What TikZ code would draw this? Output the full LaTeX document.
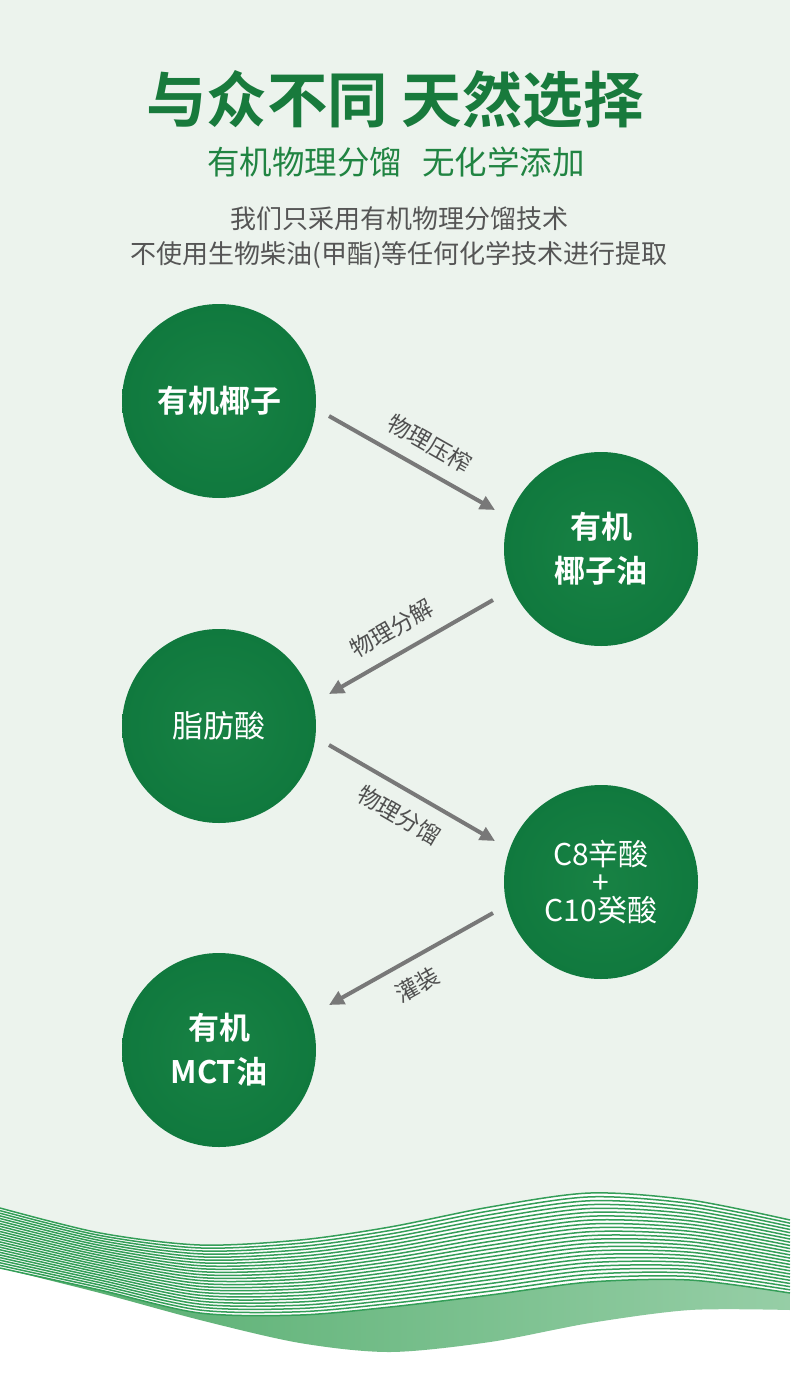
\documentclass[tikz,border=0pt]{standalone}
\usepackage{fontspec}
\setmainfont{Noto Sans CJK SC}[BoldFont={Noto Sans CJK SC Bold}]
\usetikzlibrary{arrows.meta,calc}

\definecolor{pagebg}{RGB}{236,243,237}
\definecolor{titlegreen}{RGB}{24,122,60}
\definecolor{subgreen}{RGB}{32,132,66}
\definecolor{textgray}{RGB}{85,85,85}
\definecolor{stagegreen}{RGB}{16,121,62}
\definecolor{stagelight}{RGB}{24,130,68}
\definecolor{arrowgray}{RGB}{120,120,120}
\definecolor{labelgray}{RGB}{80,80,80}
\definecolor{wavegreen}{RGB}{52,158,88}
\definecolor{bandleft}{RGB}{82,172,108}
\definecolor{bandmid}{RGB}{200,230,207}
\definecolor{bandright}{RGB}{150,206,166}

\begin{document}
\begin{tikzpicture}[
  x=1pt, y=-1pt,
  stage/.style={circle, minimum size=194pt, inner sep=0pt, text=white, align=center,
    inner color=stagelight, outer color=stagegreen},
  flow/.style={-{Triangle[length=15pt,width=14pt]}, line width=4pt, draw=arrowgray},
  steplabel/.style={sloped, font=\fontsize{23}{23}\selectfont, text=labelgray, inner sep=0pt},
  waveline/.style={draw=wavegreen, line width=1.5pt}
]

% page
\fill[pagebg] (0,0) rectangle (790,1380);
\useasboundingbox (0,0) rectangle (790,1380);

% bottom wave
\fill[white] plot[smooth] coordinates {(0,1208) (100,1233) (200,1245) (300,1240) (390,1227) (490,1207) (590,1193) (690,1200) (790,1220)}
  -- (790,1380) -- (0,1380) -- cycle;
\shade[left color=bandleft, middle color=bandmid, right color=bandright]
  plot[smooth] coordinates {(0,1268) (100,1290) (200,1313) (300,1315) (390,1307) (490,1295) (590,1282) (690,1280) (790,1293)}
  -- plot[smooth] coordinates {(790,1310) (690,1310) (590,1323) (490,1342) (390,1352) (300,1343) (200,1320) (100,1293) (0,1268)}
  -- cycle;
\foreach \k in {0,...,23}{
  \pgfmathsetmacro\t{\k/23}
  \draw[waveline] plot[smooth] coordinates {(0,1208+60*\t) (100,1233+57*\t) (200,1245+68*\t) (300,1240+75*\t)
    (390,1227+80*\t) (490,1207+88*\t) (590,1193+89*\t) (690,1200+80*\t) (790,1220+73*\t)};
}

% heading
\node[font=\fontsize{60.5}{60.5}\selectfont\bfseries, text=titlegreen] (title) at (395,100) {与众不同 天然选择};
\node[font=\fontsize{32.5}{32.5}\selectfont, text=subgreen] (subtitle) at (396,162) {有机物理分馏\hspace{20pt}无化学添加};
\node[font=\fontsize{26}{35}\selectfont, text=textgray, align=center] (intro) at (399,238)
  {我们只采用有机物理分馏技术\\不使用生物柴油(甲酯)等任何化学技术进行提取};

% stages
\node[stage, font=\fontsize{31}{44}\selectfont\bfseries] (coco) at (219,401) {有机椰子};
\node[stage, font=\fontsize{31}{44}\selectfont\bfseries] (cocooil) at (601,549) {有机\\椰子油};
\node[stage, font=\fontsize{31}{44}\selectfont] (fatty) at (219,726) {脂肪酸};
\node[stage, font=\fontsize{30}{28}\selectfont] (mcfa) at (601,882) {C8辛酸\\+\\C10癸酸};
\node[stage, font=\fontsize{31}{44}\selectfont\bfseries] (mct) at (219,1050) {有机\\MCT油};

% arrows
\draw[flow] ($(coco)+(110,15)$) -- ($(cocooil)+(-106,-39)$)
  node[steplabel, pos=0.53, above=13pt] (press) {物理压榨};
\draw[flow] ($(cocooil)+(-108,51)$) -- ($(fatty)+(110,-32)$)
  node[steplabel, pos=0.54, above=13pt] (split) {物理分解};
\draw[flow] ($(fatty)+(110,19)$) -- ($(mcfa)+(-106,-41)$)
  node[steplabel, midway, below=13pt] (distil) {物理分馏};
\draw[flow] ($(mcfa)+(-108,31)$) -- ($(mct)+(110,-45)$)
  node[steplabel, pos=0.54, below=13pt] (fill) {灌装};

\end{tikzpicture}
\end{document}
